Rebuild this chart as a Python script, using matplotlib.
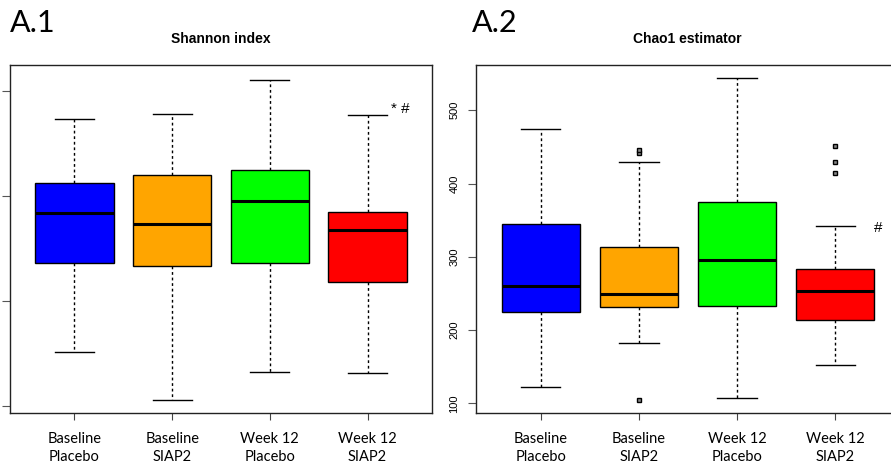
import matplotlib
matplotlib.use("Agg")
import matplotlib.pyplot as plt

groups = ["Baseline\nPlacebo", "Baseline\nSIAP2", "Week 12\nPlacebo", "Week 12\nSIAP2"]
colors = ["#0000FF", "#FFA500", "#00FF00", "#FF0000"]

# Shannon index (tick labels cut off in the source, values on a relative scale)
sh_low = [1.51, 1.05, 1.32, 1.31]
sh_q1 = [2.36, 2.33, 2.36, 2.18]
sh_med = [2.84, 2.73, 2.95, 2.68]
sh_q3 = [3.12, 3.20, 3.25, 2.85]
sh_high = [3.73, 3.78, 4.11, 3.77]
sh_ticks = [1, 2, 3, 4]

# Chao1 estimator
ch_low = [122, 182, 108, 152]
ch_q1 = [225, 231, 233, 214]
ch_med = [260, 250, 296, 253]
ch_q3 = [345, 313, 375, 284]
ch_high = [475, 430, 544, 342]
ch_fliers = [[], [442, 446, 105], [], [451, 429, 414]]
ch_ticks = [100, 200, 300, 400, 500]

W, H = 891, 469
fig = plt.figure(figsize=(W / 100, H / 100), dpi=100)


def make_stats(low, q1, med, q3, high, fliers=None):
    stats = []
    for i in range(len(low)):
        stats.append({
            "whislo": low[i], "q1": q1[i], "med": med[i], "q3": q3[i],
            "whishi": high[i], "fliers": fliers[i] if fliers else [],
        })
    return stats


def draw(ax, stats):
    bp = ax.bxp(stats, positions=[1, 2, 3, 4], widths=0.8, patch_artist=True,
                showfliers=True,
                boxprops=dict(edgecolor="black", linewidth=1.0),
                medianprops=dict(color="black", linewidth=2.2, solid_capstyle="butt"),
                whiskerprops=dict(color="black", linewidth=1.0, linestyle=(0, (2, 2))),
                capprops=dict(color="black", linewidth=1.0),
                flierprops=dict(marker="s", markersize=3, markerfacecolor="#888888",
                                markeredgecolor="black", markeredgewidth=1.0))
    for patch, c in zip(bp["boxes"], colors):
        patch.set_facecolor(c)
    for cap in bp["caps"]:
        x = cap.get_xdata()
        m = (x[0] + x[1]) / 2
        cap.set_xdata([m - 0.2, m + 0.2])
    ax.set_xlim(0.34, 4.66)
    ax.set_xticks([1, 2, 3, 4])
    ax.set_xticklabels(groups, family="Lato", fontsize=10.5, linespacing=1.3)
    ax.tick_params(axis="x", length=5, pad=9, color="#444444")
    ax.tick_params(axis="y", length=6, color="#555555")
    for s in ax.spines.values():
        s.set_linewidth(1.0)
        s.set_color("#222222")


def px_rect(x0, x1, y0, y1):
    return [x0 / W, 1 - y1 / H, (x1 - x0) / W, (y1 - y0) / H]


ax1 = fig.add_axes(px_rect(10, 432, 65.5, 413))
draw(ax1, make_stats(sh_low, sh_q1, sh_med, sh_q3, sh_high))
ax1.set_ylim(0.93, 4.245)
ax1.set_yticks(sh_ticks)
ax1.set_yticklabels([])
ax1.text(4.34, 3.83, "* #", fontsize=11, family="Liberation Sans", ha="center", va="center")

ax2 = fig.add_axes(px_rect(476, 900, 65.5, 413))
draw(ax2, make_stats(ch_low, ch_q1, ch_med, ch_q3, ch_high, ch_fliers))
ax2.set_ylim(87, 561)
ax2.set_yticks(ch_ticks)
ax2.set_yticklabels([str(t) for t in ch_ticks], rotation=90, va="center",
                    fontsize=8, family="Liberation Sans")
ax2.tick_params(axis="y", pad=6)
ax2.text(4.44, 340, "#", fontsize=11, family="Liberation Sans", ha="center", va="center")

fig.text(221 / W, 1 - 39 / H, "Shannon index", fontsize=10, fontweight="bold",
         family="Liberation Sans", ha="center", va="center")
fig.text(687 / W, 1 - 39 / H, "Chao1 estimator", fontsize=10, fontweight="bold",
         family="Liberation Sans", ha="center", va="center")
fig.text(10 / W, 1 - 23 / H, "A.1", fontsize=22, family="Lato", ha="left", va="center")
fig.text(472 / W, 1 - 23 / H, "A.2", fontsize=22, family="Lato", ha="left", va="center")

fig.savefig("out.png", dpi=100)
